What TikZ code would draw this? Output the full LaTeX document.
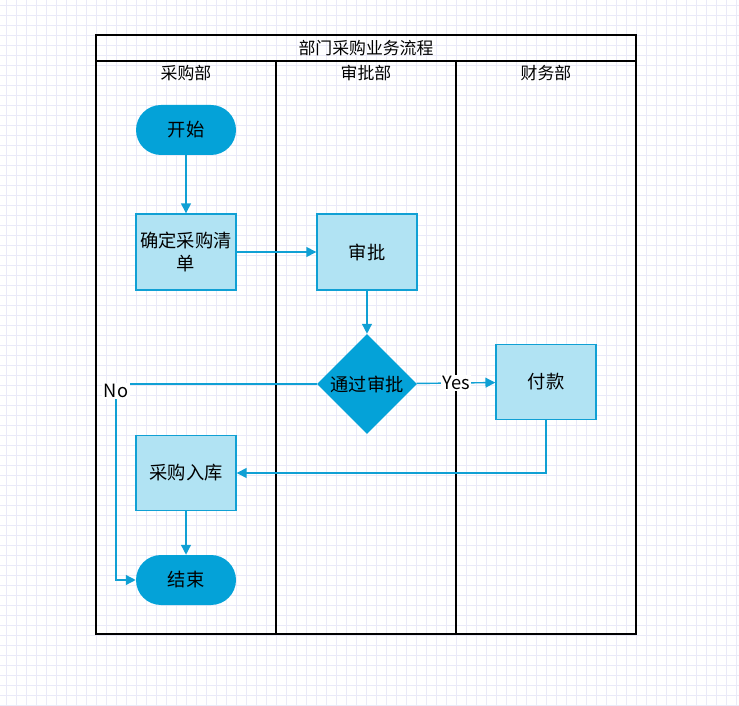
\documentclass[tikz,border=0pt]{standalone}
\usepackage{fontspec}
\setmainfont{Noto Sans CJK SC}
\usetikzlibrary{shapes.geometric,arrows.meta,calc}
\definecolor{flowblue}{RGB}{4,162,216}
\definecolor{flowlight}{RGB}{177,227,243}
\definecolor{flowline}{RGB}{16,160,212}
\definecolor{gridcol}{RGB}{234,234,248}

\begin{document}
\begin{tikzpicture}[
  lane/.style={draw, line width=1.4pt},
  terminal/.style={rectangle, rounded corners=0.625cm, fill=flowblue,
                   minimum width=2.5cm, minimum height=1.25cm, inner sep=0pt,
                   font=\fontsize{13}{15}\selectfont},
  proc/.style={draw=flowline, fill=flowlight, line width=1pt, minimum width=2.5cm,
               minimum height=1.9cm, align=center, inner sep=2pt,
               font=\fontsize{13}{16}\selectfont},
  decision/.style={diamond, fill=flowblue, minimum width=2.5cm, minimum height=2.5cm,
                   inner sep=0pt, font=\fontsize{13}{15}\selectfont},
  arr/.style={-{Triangle[length=7pt,width=7pt]}, line width=1pt, flowline},
  lbl/.style={fill=white, inner sep=1pt, text=black, font=\fontsize{13}{15}\selectfont},
  font=\fontsize{12}{14}\selectfont
]

% ===== canvas =====
\clip (0,-17.65) rectangle (18.475,0);
\begin{scope}[shift={(0.15,0.125)}]
  \draw[gridcol, step=0.25] (-0.5,-18) grid (18.5,0.25);
\end{scope}

% ===== pool and lanes =====
\draw[lane] (2.4,-0.875) rectangle (15.9,-15.85);
\draw[lane] (2.4,-1.525) -- (15.9,-1.525);
\draw[lane] (6.9,-1.525) -- (6.9,-15.85);
\draw[lane] (11.4,-1.525) -- (11.4,-15.85);
\node (title) at (9.15,-1.2) {部门采购业务流程};
\node (buyhead) at (4.65,-1.825) {采购部};
\node (audithead) at (9.15,-1.825) {审批部};
\node (finhead) at (13.65,-1.825) {财务部};

% ===== steps =====
\node[terminal] (start) at (4.65,-3.25) {开始};
\node[proc] (list) at (4.65,-6.3) {确定采购清\\单};
\node[proc] (approve) at (9.175,-6.3) {审批};
\node[decision] (check) at (9.175,-9.6) {通过审批};
\node[proc, minimum height=1.875cm] (pay) at (13.65,-9.55) {付款};
\node[proc, minimum height=1.875cm] (stock) at (4.65,-11.825) {采购入库};
\node[terminal] (finish) at (4.65,-14.5) {结束};

% ===== connectors =====
\coordinate (nobend) at (2.9,-9.6);
\draw[arr] (start) -- (list);
\draw[arr] (list) -- (approve);
\draw[arr] (approve) -- (check);
\draw[arr] (check) -- node[lbl] (yeslbl) {Yes} (pay);
\draw[arr] (check.west) -- (nobend) |- (finish.west);
\node[lbl] (nolbl) at (2.9,-9.775) {No};
\draw[arr] (pay.south) |- (stock.east);
\draw[arr] (stock) -- (finish);

\end{tikzpicture}
\end{document}
